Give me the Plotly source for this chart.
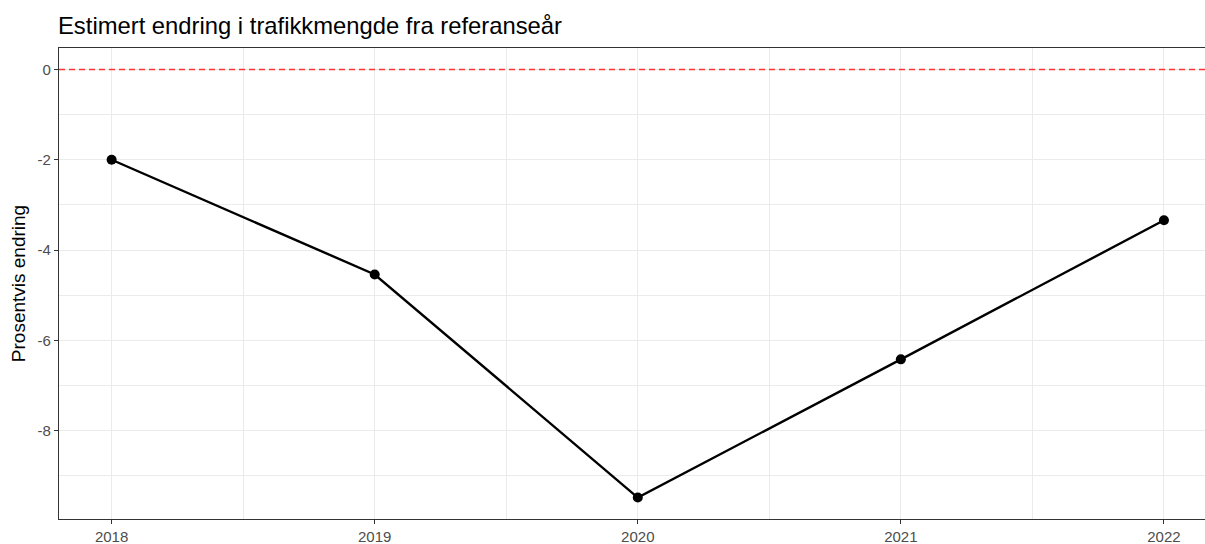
import plotly.graph_objects as go

years = [2018, 2019, 2020, 2021, 2022]
change = [-2.0, -4.54, -9.48, -6.42, -3.34]
x_ticks = [2018, 2019, 2020, 2021, 2022]
y_ticks = [0, -2, -4, -6, -8]

title_text = "Estimert endring i trafikkmengde fra referanseår"
y_title = "Prosentvis endring"

grid = "#EBEBEB"
border = "#333333"
tickfont = dict(family="Liberation Sans, Arial, sans-serif", size=15, color="#4D4D4D")

fig = go.Figure()
fig.add_trace(go.Scatter(
    x=years, y=change, mode="lines+markers",
    line=dict(color="black", width=2.4),
    marker=dict(color="black", size=10),
    showlegend=False, hoverinfo="skip",
))

fig.add_shape(type="line", xref="paper", yref="y", x0=0, x1=1, y0=0, y1=0,
              line=dict(color="#FF3333", width=1.6, dash="6px,4px"), layer="above")

fig.update_layout(
    width=1205, height=544,
    margin=dict(l=59, r=0, t=48, b=25),
    paper_bgcolor="white", plot_bgcolor="white",
    font=dict(family="Liberation Sans, Arial, sans-serif"),
    title=dict(text=title_text, x=58 / 1205, xanchor="left", xref="container",
               y=1 - 26 / 544, yanchor="middle", yref="container",
               font=dict(size=23.8, color="black")),
)

fig.update_xaxes(
    range=[2017.8, 2022.156], tickvals=x_ticks, ticktext=[str(v) for v in x_ticks],
    tickfont=tickfont, ticks="outside", ticklen=4, tickwidth=1, tickcolor=border,
    showgrid=True, gridcolor=grid, gridwidth=1.1, zeroline=False,
    minor=dict(tickvals=[2018.5, 2019.5, 2020.5, 2021.5], showgrid=True, gridcolor=grid, gridwidth=0.6, ticks=""),
    showline=True, linecolor=border, linewidth=1.3, mirror=True,
)
fig.update_yaxes(
    range=[-9.955, 0.475], tickvals=y_ticks, ticktext=[str(v) for v in y_ticks],
    tickfont=tickfont, ticks="outside", ticklen=4, tickwidth=1, tickcolor=border,
    showgrid=True, gridcolor=grid, gridwidth=1.1, zeroline=False,
    minor=dict(tickvals=[-1, -3, -5, -7, -9], showgrid=True, gridcolor=grid, gridwidth=0.6, ticks=""),
    showline=True, linecolor=border, linewidth=1.3, mirror=False,
    title=dict(text=y_title, font=dict(size=19, color="black"), standoff=6),
)

fig.write_html("out.html", config={"displayModeBar": False},
               post_script="document.body.style.margin='0';document.body.style.overflow='hidden';")
